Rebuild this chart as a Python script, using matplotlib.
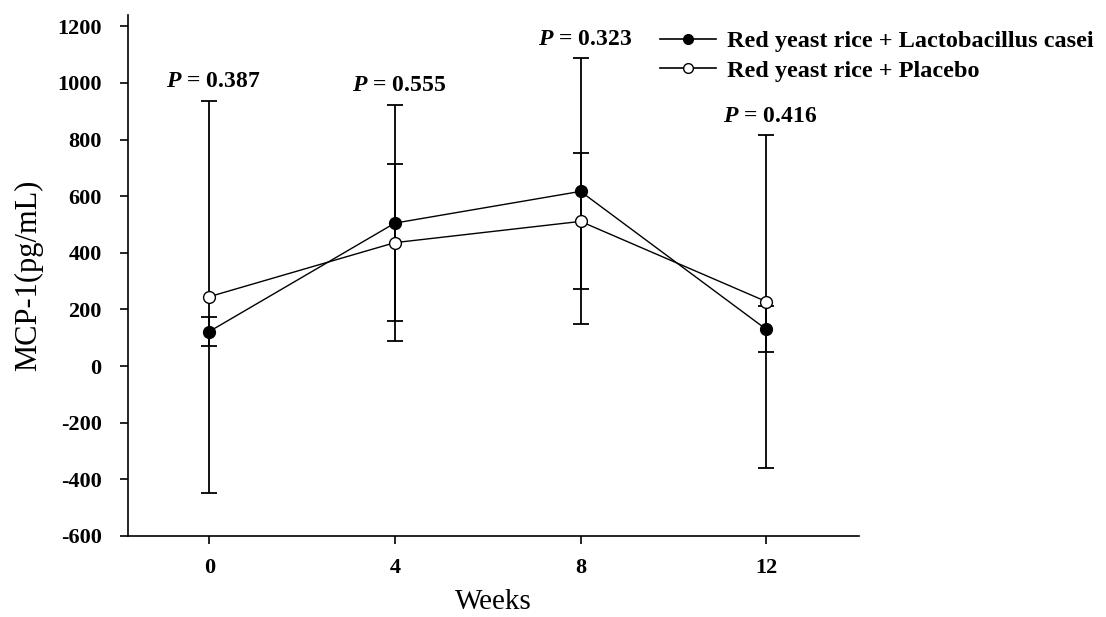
import matplotlib
matplotlib.use("Agg")
import matplotlib.pyplot as plt
from matplotlib.lines import Line2D

weeks = [0, 4, 8, 12]
lc_mean = [122, 505, 617, 130]
lc_sd = [50, 418, 470, 81]
pl_mean = [245, 436, 511, 228]
pl_sd = [692, 277, 240, 588]
p_values = ["0.387", "0.555", "0.323", "0.416"]
series_names = ["Red yeast rice + Lactobacillus casei", "Red yeast rice + Placebo"]
yticks = [-600, -400, -200, 0, 200, 400, 600, 800, 1000, 1200]

plt.rcParams['font.family'] = ['Liberation Serif', 'DejaVu Serif']
plt.rcParams['mathtext.fontset'] = 'custom'
plt.rcParams['mathtext.it'] = 'Liberation Serif:italic:bold'
plt.rcParams['mathtext.rm'] = 'Liberation Serif:bold'
plt.rcParams['mathtext.bf'] = 'Liberation Serif:bold'

fig = plt.figure(figsize=(11.06, 6.17), dpi=100)
ax = fig.add_axes([0.1157, 0.1313, 0.6610, 0.8444])

lw = 1.0
ax.errorbar(weeks, lc_mean, yerr=lc_sd, color='black', lw=lw, elinewidth=1.3,
            capsize=6, capthick=1.3, marker='o', markersize=8.5,
            markerfacecolor='black', markeredgecolor='black', zorder=3)
ax.errorbar(weeks, pl_mean, yerr=pl_sd, color='black', lw=lw, elinewidth=1.3,
            capsize=6, capthick=1.3, marker='o', markersize=8.5,
            markerfacecolor='white', markeredgecolor='black', zorder=3)

for x, m1, s1, m2, s2, p in zip(weeks, lc_mean, lc_sd, pl_mean, pl_sd, p_values):
    top = max(m1 + s1, m2 + s2)
    ax.annotate(r"$\mathit{P}$" + " = " + p, xy=(x, top), xytext=(3, 6),
                textcoords='offset points', ha='center', va='bottom',
                fontsize=17, fontweight='bold')

ax.set_xlim(-1.75, 14.0)
ax.set_ylim(-600, 1240)
ax.set_xticks(weeks)
ax.set_yticks(yticks)
ax.set_xticklabels([str(w) for w in weeks], fontweight='bold', fontsize=16)
ax.set_yticklabels([str(t) for t in yticks], fontweight='bold', fontsize=16)
ax.tick_params(axis='x', direction='out', length=6, width=1.2, pad=10)
ax.tick_params(axis='y', direction='out', length=6, width=1.2, pad=13)
for s in ['top', 'right']:
    ax.spines[s].set_visible(False)
for s in ['left', 'bottom']:
    ax.spines[s].set_linewidth(1.2)

ax.set_xlabel("Weeks", fontsize=21, labelpad=8)
ax.set_ylabel("MCP-1(pg/mL)", fontsize=22, labelpad=10)

handles = [
    Line2D([], [], color='black', lw=1.2, marker='o', markersize=7,
           markerfacecolor='black', markeredgecolor='black'),
    Line2D([], [], color='black', lw=1.2, marker='o', markersize=7,
           markerfacecolor='white', markeredgecolor='black'),
]
fig.legend(handles=handles, labels=series_names, loc='upper left',
           bbox_to_anchor=(0.5967, 0.951), frameon=False,
           prop={'weight': 'bold', 'size': 17.5}, handlelength=2.3,
           handletextpad=0.45, labelspacing=0.3, borderpad=0.0,
           borderaxespad=0.0)

fig.savefig("out.png", dpi=100)
